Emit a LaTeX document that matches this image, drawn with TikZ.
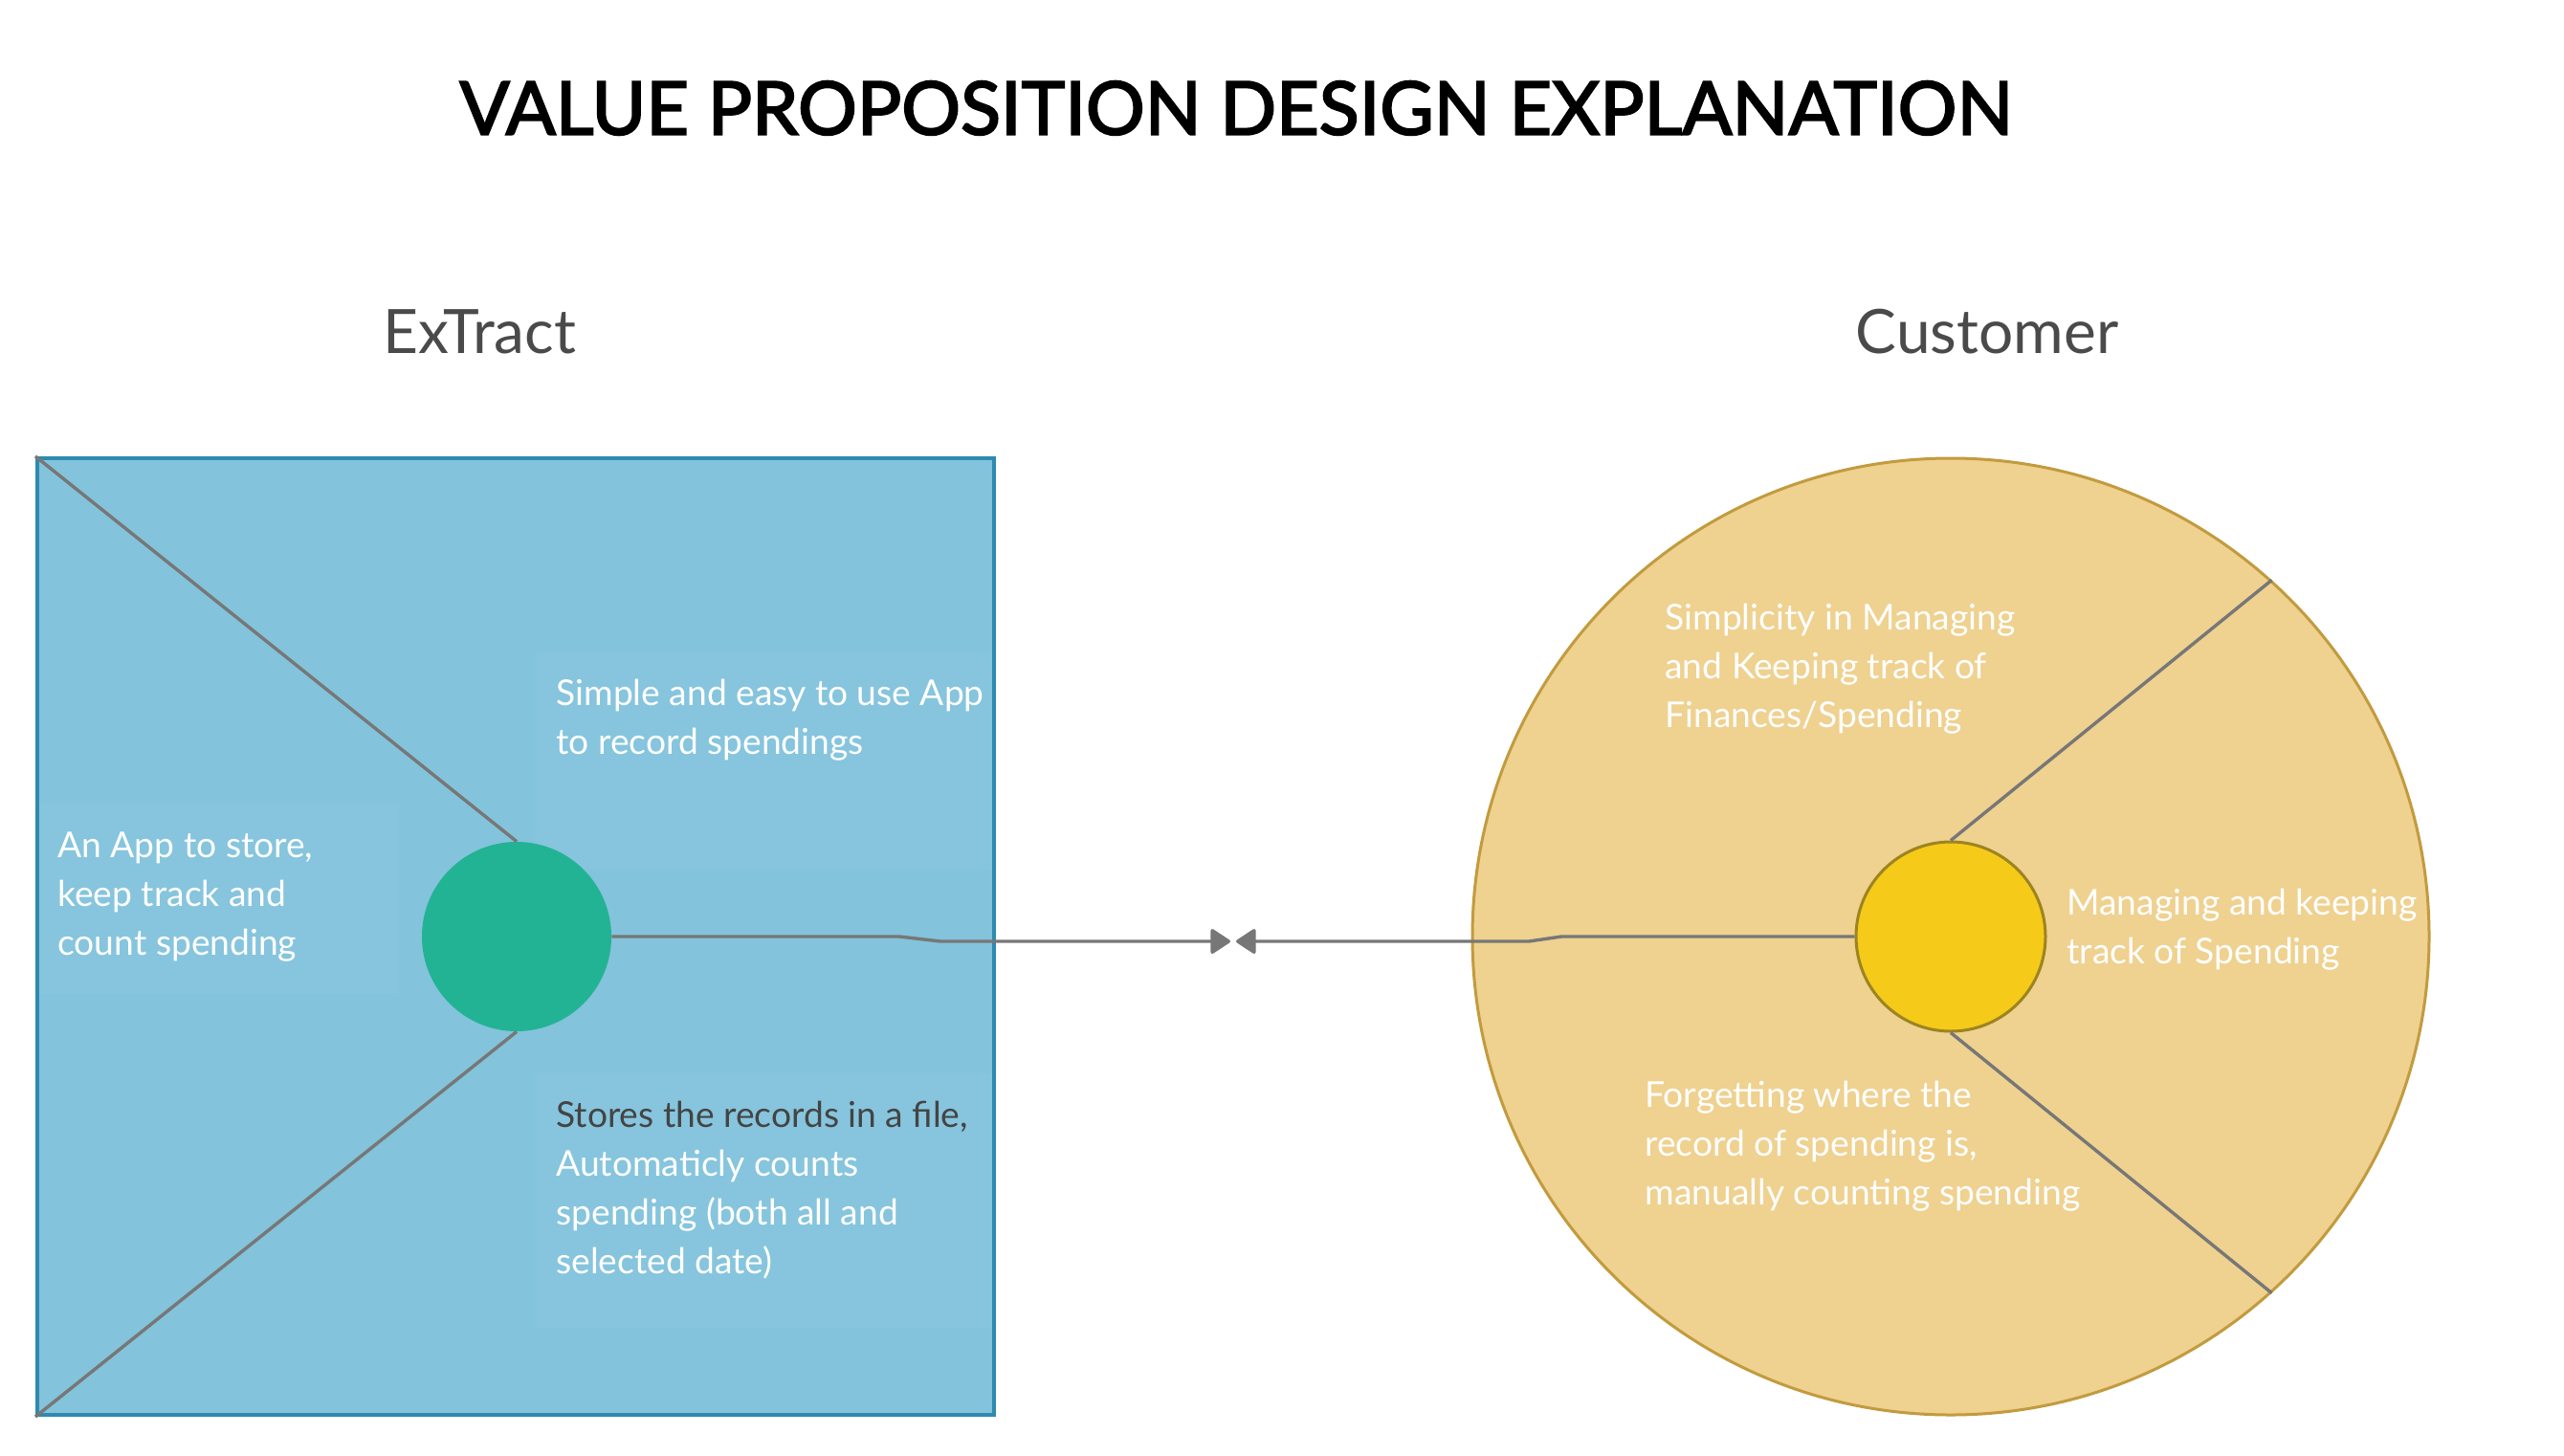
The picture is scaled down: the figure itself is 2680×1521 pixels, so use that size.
\documentclass[tikz,border=0pt]{standalone}
\usepackage{fontspec}
\setmainfont{Lato}
\newfontfamily\titlefont[FakeBold=2.6]{Lato}
\usetikzlibrary{arrows.meta}
\definecolor{boxfill}{HTML}{83C3DB}
\definecolor{boxline}{HTML}{2E8AB0}
\definecolor{boxtext}{HTML}{86C5DD}
\definecolor{greenc}{HTML}{22B394}
\definecolor{bigfill}{HTML}{EFD190}
\definecolor{bigline}{HTML}{C29B3E}
\definecolor{yelfill}{HTML}{F5CA19}
\definecolor{yelline}{HTML}{9C8420}
\definecolor{linegrey}{HTML}{777777}
\definecolor{labelgrey}{HTML}{4A4A4A}
\definecolor{darktext}{HTML}{444444}
\begin{document}
\begin{tikzpicture}[x=0.5pt,y=-0.5pt,
  vpbox/.style={draw=boxline, fill=boxfill, line width=2pt, minimum width=500pt, minimum height=500pt, inner sep=0pt},
  greendot/.style={circle, fill=greenc, minimum size=99pt, inner sep=0pt},
  bigcirc/.style={circle, draw=bigline, fill=bigfill, line width=1.5pt, minimum size=500pt, inner sep=0pt},
  yeldot/.style={circle, draw=yelline, fill=yelfill, line width=1.5pt, minimum size=99pt, inner sep=0pt},
  spoke/.style={draw=linegrey, line width=1.7pt},
  conn/.style={draw=linegrey, line width=1.7pt, -{Triangle[length=11pt,width=14pt,round]}},
  txt/.style={text=white, align=left, anchor=west, inner sep=0pt, font=\fontsize{18.6pt}{25.5pt}\selectfont},
  heading/.style={text=labelgrey, inner sep=0pt, font=\fontsize{32pt}{38pt}\selectfont},
  titlestyle/.style={text=black, inner sep=0pt, font=\titlefont\fontsize{38.6pt}{46pt}\selectfont}
]
\useasboundingbox (0,0) rectangle (2680,1521);
\fill[white] (0,0) rectangle (2680,1521);

\node[titlestyle] (title) at (1292,113) {VALUE PROPOSITION DESIGN EXPLANATION};
\node[heading] (extract) at (501,347) {ExTract};
\node[heading] (customer) at (2077,347) {Customer};

% value proposition box
\node[vpbox] (vp) at (539,979) {};
\fill[boxtext] (41,840) rectangle (417,1040);
\fill[boxtext] (559,681) rectangle (1037,909);
\fill[boxtext] (559,1122) rectangle (1037,1388);
\node[greendot] (gc) at (540,979) {};
\path[spoke] (vp.north west) -- (gc.north);
\path[spoke] (vp.south west) -- (gc.south);

\node[txt] (t1) at (581,753) {Simple and easy to use App\\to record spendings};
\node[txt] (t2) at (60,938) {An App to store,\\keep track and\\count spending};
\node[txt] (t3) at (581,1244) {{\color{darktext}Stores the records in a file,}\\Automaticly counts\\spending (both all and\\selected date)};

% customer circle
\node[bigcirc] (bc) at (2039,979) {};
\node[yeldot] (yc) at (2039,979) {};
\path[spoke] (yc.north) -- (bc.48);
\path[spoke] (yc.south) -- (bc.-48);

\node[txt] (t4) at (1740,699) {Simplicity in Managing\\and Keeping track of\\Finances/Spending};
\node[txt] (t5) at (2160,972) {Managing and keeping\\track of Spending};
\node[txt] (t6) at (1719,1198) {Forgetting where the\\record of spending is,\\manually counting spending};

% connectors
\coordinate (k1) at (940,979);
\coordinate (k2) at (983,984);
\coordinate (e1) at (1286,984);
\coordinate (k3) at (1632,979);
\coordinate (k4) at (1598,984);
\coordinate (e2) at (1292,984);
\path[conn] (gc.east) -- (k1) -- (k2) -- (e1);
\path[conn] (yc.west) -- (k3) -- (k4) -- (e2);
\end{tikzpicture}
\end{document}
